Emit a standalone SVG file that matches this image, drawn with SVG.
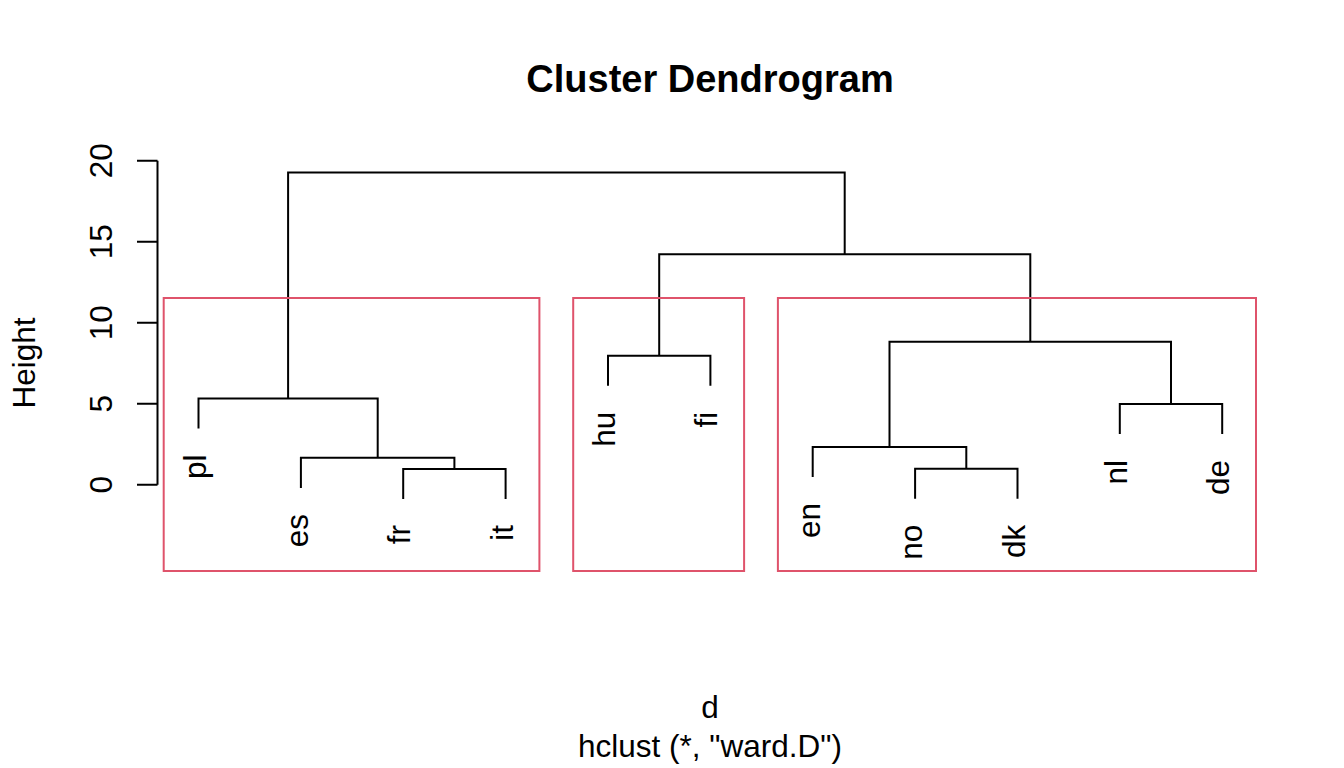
<svg xmlns="http://www.w3.org/2000/svg" width="1344" height="768" viewBox="0 0 1344 768">
<style>
text{font-family:"Liberation Sans",Arial,Helvetica,sans-serif;font-size:31.5px;fill:#000}
.title{font-size:38px;font-weight:bold}
.ln{stroke:#000;stroke-width:2;fill:none;stroke-linecap:butt}
.box{stroke:#DF536B;stroke-width:2;fill:none}
.lab{text-anchor:end}
.tk{text-anchor:middle}
</style>
<rect width="1344" height="768" fill="#fff"/>
<text class="title" x="710" y="92" text-anchor="middle">Cluster Dendrogram</text>
<g id="axis">
<path class="ln" d="M157.5 160.7V484.7M137 160.7H157.5M137 241.7H157.5M137 322.7H157.5M137 403.7H157.5M137 484.7H157.5"/>
<text class="tk" transform="translate(112,484.7) rotate(-90)">0</text>
<text class="tk" transform="translate(112,403.7) rotate(-90)">5</text>
<text class="tk" transform="translate(112,322.7) rotate(-90)">10</text>
<text class="tk" transform="translate(112,241.7) rotate(-90)">15</text>
<text class="tk" transform="translate(112,160.7) rotate(-90)">20</text>
<text class="tk" transform="translate(35,363) rotate(-90)">Height</text>
</g>
<g id="connectors">
<path class="ln" d="M288.1 398.5V172.5H844.7V254.3"/>
<path class="ln" d="M198.5 428.5V398.5H377.7V457.7"/>
<path class="ln" d="M300.9 488V457.7H454.4V469"/>
<path class="ln" d="M403.2 499V469H505.6V499"/>
<path class="ln" d="M659.2 355.7V254.3H1030.3V341.7"/>
<path class="ln" d="M608 385.7V355.7H710.4V385.7"/>
<path class="ln" d="M889.5 447V341.7H1171V404"/>
<path class="ln" d="M812.7 477V447H966.3V468.7"/>
<path class="ln" d="M915.1 498.7V468.7H1017.5V498.7"/>
<path class="ln" d="M1119.8 434V404H1222.2V434"/>
</g>
<g id="leaves">
<text class="lab" id="pl" transform="translate(205.5,454.5) rotate(-90)">pl</text>
<text class="lab" id="es" transform="translate(307.9,514) rotate(-90)">es</text>
<text class="lab" id="fr" transform="translate(410.2,525) rotate(-90)">fr</text>
<text class="lab" id="it" transform="translate(512.6,525) rotate(-90)">it</text>
<text class="lab" id="hu" transform="translate(615,411.7) rotate(-90)">hu</text>
<text class="lab" id="fi" transform="translate(717.4,411.7) rotate(-90)">fi</text>
<text class="lab" id="en" transform="translate(819.7,503) rotate(-90)">en</text>
<text class="lab" id="no" transform="translate(922.1,524.7) rotate(-90)">no</text>
<text class="lab" id="dk" transform="translate(1024.5,524.7) rotate(-90)">dk</text>
<text class="lab" id="nl" transform="translate(1126.8,460) rotate(-90)">nl</text>
<text class="lab" id="de" transform="translate(1229.2,460) rotate(-90)">de</text>
</g>
<g id="clusters">
<rect class="box" x="163.7" y="298" width="375.7" height="273"/>
<rect class="box" x="573.2" y="298" width="170.9" height="273"/>
<rect class="box" x="777.9" y="298" width="478.1" height="273"/>
</g>
<g id="xlab">
<text x="710" y="718" text-anchor="middle">d</text>
<text x="710" y="757" text-anchor="middle">hclust (*, "ward.D")</text>
</g>
</svg>
